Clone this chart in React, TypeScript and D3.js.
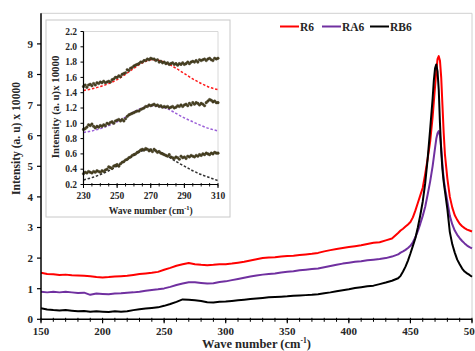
import React from 'react';
import * as d3 from 'd3';

const W = 475, H = 351;

// Main chart wave numbers (cm-1)
const waveNumbers = [
  150,155,160,165,170,175,180,185,190,195,
  200,205,210,215,220,225,230,235,240,245,
  250,255,260,265,270,275,280,285,290,295,
  300,305,310,315,320,325,330,335,340,345,
  350,355,360,365,370,375,380,385,390,395,
  400,405,410,415,420,425,430,435,440,
  442,444,446,448,450,452,454,456,458,460,462,464,466,468,469,470,471,472,473,474,475,476,477,478,480,482,484,486,488,490,492,494,496,498,500,
];
const r6 = [
  1.52,1.48,1.47,1.45,1.46,1.44,1.43,1.42,1.41,1.38,
  1.37,1.38,1.40,1.41,1.42,1.45,1.48,1.50,1.52,1.55,
  1.62,1.68,1.75,1.80,1.84,1.80,1.78,1.77,1.78,1.80,
  1.80,1.82,1.85,1.88,1.92,1.96,2.00,2.02,2.03,2.05,
  2.07,2.08,2.10,2.12,2.14,2.17,2.22,2.26,2.30,2.33,
  2.36,2.39,2.42,2.46,2.50,2.52,2.58,2.64,2.82,
  2.9,2.96,3.03,3.1,3.18,3.33,3.55,3.8,4.05,4.3,4.75,5.25,5.8,6.6,7.1,7.6,8.1,8.5,8.6,8.45,7.9,7.0,6.1,5.4,4.6,4.0,3.65,3.4,3.25,3.12,3.04,2.98,2.93,2.9,2.87,
];
const ra6 = [
  0.90,0.88,0.90,0.88,0.90,0.88,0.86,0.87,0.80,0.84,
  0.83,0.82,0.84,0.85,0.87,0.88,0.90,0.93,0.96,0.98,
  1.01,1.06,1.12,1.17,1.21,1.21,1.19,1.17,1.18,1.22,
  1.24,1.28,1.32,1.36,1.40,1.43,1.46,1.48,1.50,1.53,
  1.55,1.57,1.60,1.62,1.64,1.66,1.70,1.74,1.78,1.82,
  1.85,1.88,1.90,1.93,1.95,1.97,2.00,2.05,2.12,
  2.18,2.22,2.27,2.33,2.4,2.52,2.68,2.88,3.12,3.38,3.68,4.08,4.5,5.0,5.3,5.6,5.9,6.08,6.15,6.0,5.6,5.05,4.6,4.3,3.85,3.38,3.1,2.9,2.76,2.65,2.56,2.48,2.41,2.36,2.32,
];
const rb6 = [
  0.36,0.32,0.30,0.29,0.30,0.28,0.26,0.27,0.25,0.26,
  0.25,0.24,0.26,0.25,0.26,0.30,0.33,0.35,0.37,0.39,
  0.44,0.50,0.57,0.65,0.64,0.62,0.60,0.56,0.55,0.57,
  0.58,0.60,0.62,0.64,0.66,0.68,0.70,0.72,0.73,0.74,
  0.75,0.77,0.78,0.79,0.80,0.82,0.85,0.88,0.92,0.95,
  0.98,1.02,1.05,1.08,1.10,1.15,1.20,1.26,1.34,
  1.42,1.56,1.72,1.92,2.15,2.4,2.65,3.0,3.4,3.85,4.45,5.25,6.2,7.2,7.8,8.2,8.33,8.1,7.5,6.4,5.5,4.9,4.5,4.2,3.6,2.85,2.45,2.18,1.95,1.8,1.66,1.56,1.5,1.45,1.39,
];

const seriesNames = ['R6', 'RA6', 'RB6'];
const seriesColors = ['#ff0000', '#7030a0', '#000000'];
const mainXTicks = [150, 200, 250, 300, 350, 400, 450, 500];
const mainYTicks = [0, 1, 2, 3, 4, 5, 6, 7, 8, 9];

// Inset (230-310 cm-1)
const insetWave = d3.range(230, 311, 1);
const insetR6 = [
  1.48,1.50,1.47,1.50,1.51,1.49,1.52,1.50,1.53,1.52,
  1.54,1.53,1.55,1.53,1.54,1.55,1.54,1.57,1.58,1.60,
  1.60,1.62,1.61,1.64,1.65,1.66,1.70,1.69,1.72,1.73,
  1.75,1.76,1.77,1.78,1.80,1.80,1.82,1.82,1.84,1.83,
  1.85,1.84,1.84,1.82,1.83,1.80,1.81,1.79,1.80,1.78,
  1.79,1.77,1.78,1.79,1.77,1.78,1.76,1.78,1.77,1.79,
  1.77,1.78,1.80,1.78,1.80,1.81,1.80,1.82,1.80,1.83,
  1.82,1.83,1.84,1.82,1.84,1.85,1.83,1.82,1.85,1.84,1.85,
];
const insetRA6 = [
  0.92,0.93,0.95,0.98,0.97,0.99,0.96,0.94,0.96,0.95,
  0.97,0.96,0.98,0.97,1.00,0.99,1.01,1.02,1.00,1.03,
  1.04,1.05,1.03,1.05,1.03,1.06,1.09,1.11,1.12,1.13,
  1.14,1.15,1.16,1.16,1.18,1.19,1.20,1.22,1.22,1.24,
  1.23,1.24,1.25,1.23,1.24,1.22,1.23,1.21,1.22,1.21,
  1.22,1.20,1.21,1.22,1.20,1.21,1.23,1.22,1.24,1.22,
  1.24,1.25,1.23,1.26,1.24,1.27,1.25,1.27,1.26,1.24,
  1.26,1.25,1.23,1.27,1.29,1.31,1.30,1.28,1.29,1.27,1.27,
];
const insetRB6 = [
  0.34,0.36,0.35,0.37,0.36,0.35,0.37,0.36,0.38,0.37,
  0.36,0.38,0.37,0.39,0.40,0.43,0.42,0.41,0.44,0.45,
  0.46,0.44,0.47,0.49,0.50,0.52,0.53,0.55,0.56,0.58,
  0.59,0.60,0.62,0.63,0.65,0.66,0.65,0.67,0.66,0.64,
  0.65,0.63,0.66,0.64,0.62,0.63,0.61,0.60,0.59,0.58,
  0.57,0.59,0.56,0.55,0.54,0.56,0.55,0.53,0.57,0.55,
  0.56,0.54,0.57,0.56,0.58,0.57,0.56,0.58,0.57,0.59,
  0.58,0.60,0.59,0.61,0.60,0.59,0.61,0.60,0.62,0.61,0.61,
];
const fitWave = [230,235,240,245,250,255,260,265,270,275,280,285,290,295,300,305,310];
const fitR6 = [1.43,1.45,1.48,1.52,1.57,1.64,1.72,1.79,1.83,1.82,1.78,1.72,1.65,1.58,1.52,1.47,1.44];
const fitRA6 = [0.88,0.90,0.93,0.97,1.02,1.08,1.15,1.20,1.23,1.22,1.19,1.13,1.07,1.02,0.97,0.93,0.90];
const fitRB6 = [0.26,0.29,0.33,0.38,0.44,0.51,0.58,0.64,0.66,0.63,0.57,0.50,0.44,0.38,0.33,0.29,0.25];
const fitColors = ['#ff1a1a', '#9b5fd8', '#303030'];
const insetXTicks = [230, 250, 270, 290, 310];
const insetYTicks = [0.2, 0.4, 0.6, 0.8, 1.0, 1.2, 1.4, 1.6, 1.8, 2.0, 2.2];

const FONT = '"Liberation Serif", "Times New Roman", serif';
const TXT = '#262626';

export default function App() {
  // main scales
  const x = d3.scaleLinear().domain([150, 500]).range([41, 472]);
  const y = d3.scaleLinear().domain([0, 10]).range([319.3, 13.3]);
  const line = d3.line<number>().x((_, i) => x(waveNumbers[i])).y((d) => y(d));
  const mainSeries = [r6, ra6, rb6];

  // inset scales
  const ix = d3.scaleLinear().domain([230, 310]).range([83.5, 218]);
  const iy = d3.scaleLinear().domain([0.2, 2.2]).range([184.5, 31.5]);
  const fitLine = d3.line<number>().x((_, i) => ix(fitWave[i])).y((d) => iy(d)).curve(d3.curveMonotoneX);
  const insetSeries = [insetR6, insetRA6, insetRB6];
  const fits = [fitR6, fitRA6, fitRB6];

  const minorX = d3.range(150, 501, 10);
  const insetMinorX = d3.range(230, 311, 5);

  const legendX = [280, 322, 370];

  return (
    <svg width={W} height={H} style={{ position: 'fixed', left: 0, top: 0, background: '#fff' }} fontFamily={FONT}>
      <rect x={0} y={0} width={W} height={H} fill="#fff" />
      {/* plot area border */}
      <path d={`M${x(150)},${y(10)}H${x(500)}V${y(0)}`} fill="none" stroke="#d0d0d0" strokeWidth={1} />
      {/* main lines */}
      {mainSeries.map((s, k) => (
        <path key={k} d={line(s) || ''} fill="none" stroke={seriesColors[k]} strokeWidth={2} strokeLinejoin="round" />
      ))}
      {/* main axes */}
      <line x1={x(150)} x2={x(500)} y1={y(0)} y2={y(0)} stroke="#000" strokeWidth={1.5} />
      <line x1={x(150)} x2={x(150)} y1={y(0)} y2={y(10)} stroke="#000" strokeWidth={1.5} />
      {minorX.map((t) => (
        <line key={'mx' + t} x1={x(t)} x2={x(t)} y1={y(0) - 1.5} y2={y(0) + 2.5} stroke="#000" strokeWidth={1} />
      ))}
      {mainXTicks.map((t) => (
        <g key={'xt' + t}>
          <line x1={x(t)} x2={x(t)} y1={y(0)} y2={y(0) + 4} stroke="#000" strokeWidth={1.2} />
          <text x={x(t)} y={335} textAnchor="middle" fontSize={11} fontWeight="bold" fill={TXT}>{t}</text>
        </g>
      ))}
      {mainYTicks.map((t) => (
        <g key={'yt' + t}>
          <line x1={x(150) - 4} x2={x(150)} y1={y(t)} y2={y(t)} stroke="#000" strokeWidth={1.2} />
          <text x={33} y={y(t) + 3.8} textAnchor="end" fontSize={11} fontWeight="bold" fill={TXT}>{t}</text>
        </g>
      ))}
      <text x={(x(150) + x(500)) / 2} y={348} textAnchor="middle" fontSize={12.5} fontWeight="bold" fill={TXT}>
        Wave number (cm<tspan dy={-5} fontSize={7.5}>-1</tspan><tspan dy={5}>)</tspan>
      </text>
      <text transform="translate(20,138.5) rotate(-90)" textAnchor="middle" fontSize={11.6} fontWeight="bold" fill={TXT}>
        Intensity (a. u) x 10000
      </text>
      {/* legend */}
      {seriesNames.map((n, k) => (
        <g key={n}>
          <line x1={legendX[k]} x2={legendX[k] + 19} y1={26.5} y2={26.5} stroke={seriesColors[k]} strokeWidth={2} />
          <text x={legendX[k] + 20} y={30.5} fontSize={11.5} fontWeight="bold" fill={TXT}>{n}</text>
        </g>
      ))}

      {/* inset */}
      <rect x={46} y={20} width={184} height={197} fill="#fff" stroke="#c8c8c8" strokeWidth={1} />
      <path d={`M${ix(230)},${iy(2.2)}H${ix(310)}V${iy(0.2)}`} fill="none" stroke="#d8d8d8" strokeWidth={1} />
      {fits.map((f, k) => (
        <path key={'f' + k} d={fitLine(f) || ''} fill="none" stroke={fitColors[k]} strokeWidth={1.5} strokeDasharray="2.5,1.8" />
      ))}
      {insetSeries.map((s, k) => (
        <g key={'is' + k}>
          {s.map((v, i) => (
            <circle key={i} cx={ix(insetWave[i])} cy={iy(v)} r={1.3} fill="#4d4524" stroke="#2a2610" strokeWidth={0.4} />
          ))}
        </g>
      ))}
      <line x1={ix(230)} x2={ix(310)} y1={iy(0.2)} y2={iy(0.2)} stroke="#000" strokeWidth={1.2} />
      <line x1={ix(230)} x2={ix(230)} y1={iy(0.2)} y2={iy(2.2)} stroke="#000" strokeWidth={1.2} />
      {insetMinorX.map((t) => (
        <line key={'imx' + t} x1={ix(t)} x2={ix(t)} y1={iy(0.2) - 1.5} y2={iy(0.2) + 2} stroke="#000" strokeWidth={0.9} />
      ))}
      {insetXTicks.map((t) => (
        <g key={'ixt' + t}>
          <line x1={ix(t)} x2={ix(t)} y1={iy(0.2)} y2={iy(0.2) + 3.5} stroke="#000" strokeWidth={1} />
          <text x={ix(t)} y={198.5} textAnchor="middle" fontSize={9.5} fontWeight="bold" fill={TXT}>{t}</text>
        </g>
      ))}
      {insetYTicks.map((t) => (
        <g key={'iyt' + t}>
          <line x1={ix(230) - 3} x2={ix(230)} y1={iy(t)} y2={iy(t)} stroke="#000" strokeWidth={1} />
          <text x={77} y={iy(t) + 3.2} textAnchor="end" fontSize={9.5} fontWeight="bold" fill={TXT}>{t.toFixed(1)}</text>
        </g>
      ))}
      <text x={(ix(230) + ix(310)) / 2} y={213.5} textAnchor="middle" fontSize={9.6} fontWeight="bold" fill={TXT}>
        Wave number (cm<tspan dy={-4} fontSize={6.5}>-1</tspan><tspan dy={4}>)</tspan>
      </text>
      <text transform="translate(58.5,107) rotate(-90)" textAnchor="middle" fontSize={10.8} fontWeight="bold" fill={TXT}>
        Intensity (a. u)x 10000
      </text>
    </svg>
  );
}
